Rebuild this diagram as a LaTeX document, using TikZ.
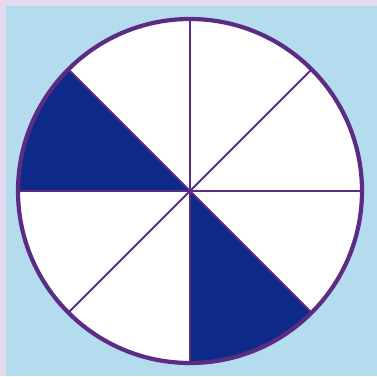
\documentclass[tikz,border=0pt]{standalone}
\usetikzlibrary{calc}
\definecolor{bgstrip}{HTML}{E4DCEE}
\definecolor{bgblue}{HTML}{B4DCEE}
\definecolor{rimpurple}{HTML}{5C2C84}
\definecolor{sectorblue}{HTML}{0E2A88}
\tikzset{
  rim/.style={draw=rimpurple, line width=4.2pt},
  spoke/.style={draw=rimpurple, line width=1.9pt},
  shaded/.style={fill=sectorblue},
}
\begin{document}
\begin{tikzpicture}[x=1pt,y=1pt]
\useasboundingbox (0,0) rectangle (377,376);
\fill[bgstrip] (0,0) rectangle (377,376);
\fill[bgblue] (6,0) rectangle (377,370);
\coordinate (c) at (190,185);
\def\R{172}
\fill[white] (c) circle (\R);
\fill[shaded] (c) -- ($(c)+(135:\R)$) arc[start angle=135, end angle=180, radius=\R] -- cycle;
\fill[shaded] (c) -- ($(c)+(270:\R)$) arc[start angle=270, end angle=315, radius=\R] -- cycle;
\foreach \a in {0,45,90,135} {
  \draw[spoke] ($(c)+(\a:\R)$) -- ($(c)+(\a+180:\R)$);
}
\draw[rim] (c) circle (\R);
\end{tikzpicture}
\end{document}
